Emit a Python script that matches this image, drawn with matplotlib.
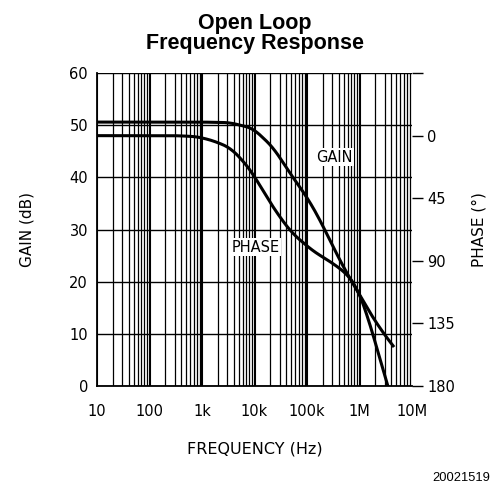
import matplotlib
matplotlib.use("Agg")
import matplotlib.pyplot as plt
import numpy as np

# values (log10 of frequency in Hz)
gain_logf = [1.0, 3.0, 3.53, 3.97, 4.35, 4.73, 5.0, 5.25, 5.5, 5.76, 5.95, 6.2, 6.45, 6.64]
gain_db = [50.6, 50.6, 50.5, 49.4, 45.8, 40.0, 36.2, 31.8, 26.6, 21.6, 18.4, 14.0, 10.2, 7.7]

phase_logf = [1.0, 2.5, 2.9, 3.21, 3.53, 3.78, 3.97, 4.24, 4.49, 4.73, 5.11, 5.5, 5.76, 5.95, 6.14, 6.33, 6.54]
phase_deg = [0.0, 0.0, 0.7, 3.6, 8.6, 18.0, 27.4, 44.6, 59.0, 70.6, 82.8, 92.0, 99.4, 109.0, 128.0, 152.6, 180.0]

freq_ticks = [10, 100, 1e3, 1e4, 1e5, 1e6, 1e7]
freq_labels = ["10", "100", "1k", "10k", "100k", "1M", "10M"]
gain_ticks = [0, 10, 20, 30, 40, 50, 60]
phase_ticks = [-45, 0, 45, 90, 135, 180]
phase_labels = ["", "0", "45", "90", "135", "180"]


def smooth(logf, vals, n=300):
    # light smoothing of the read-off points so the curve looks drawn
    x = np.array(logf)
    y = np.array(vals)
    xs = np.linspace(x[0], x[-1], n)
    ys = np.interp(xs, x, y)
    k = 7
    pad = np.pad(ys, k, mode="reflect", reflect_type="odd")
    ys = np.convolve(pad, np.ones(2 * k + 1) / (2 * k + 1), mode="valid")
    return 10 ** xs, ys


plt.rcParams["font.family"] = ["DejaVu Sans"]

fig = plt.figure(figsize=(5.0, 4.97), dpi=100)
ax = fig.add_axes([0.194, 0.2233, 0.63, 0.6297])

ax.set_xscale("log")
ax.set_xlim(10, 1e7)
ax.set_ylim(0, 60)

# grid: every minor decade line plus gain lines
for dec in range(1, 7):
    for m in range(1, 10):
        f = m * 10 ** dec
        if f > 1e7:
            continue
        lw = 1.5 if m == 1 else 0.9
        ax.axvline(f, color="black", lw=lw, zorder=1)
for g in gain_ticks:
    ax.axhline(g, color="black", lw=1.0, zorder=1)

gx, gy = smooth(gain_logf, gain_db)
ax.plot(gx, gy, color="black", lw=2.2, zorder=3)

ax.set_xticks(freq_ticks)
ax.set_xticklabels(freq_labels)
ax.set_xticks([], minor=True)
ax.set_yticks(gain_ticks)
ax.tick_params(axis="x", length=0, labelsize=10.5, pad=13)
ax.tick_params(axis="y", length=0, labelsize=10.5, pad=6.5)

for s in ["top", "right"]:
    ax.spines[s].set_visible(False)
ax.spines["left"].set_linewidth(1.3)
ax.spines["bottom"].set_linewidth(1.3)

ax.set_xlabel("FREQUENCY (Hz)", fontsize=11.5, labelpad=16)
ax.set_ylabel("GAIN (dB)", fontsize=11, labelpad=25)

ax2 = ax.twinx()
ax2.set_ylim(180, -45)
px, py = smooth(phase_logf, phase_deg)
ax2.plot(px, py, color="black", lw=2.2, zorder=3)
ax2.set_yticks(phase_ticks)
ax2.set_yticklabels(phase_labels)
ax2.tick_params(axis="y", length=8, width=1.0, labelsize=10.5, pad=3)
for s in ["top", "left", "bottom", "right"]:
    ax2.spines[s].set_visible(False)
ax2.set_ylabel("PHASE (°)", fontsize=11, labelpad=12)

ax.text(3.26e5, 43.9, "GAIN", fontsize=10.5, ha="center", va="center",
        bbox=dict(facecolor="white", edgecolor="none", pad=1), zorder=4)
ax.text(1.05e4, 26.6, "PHASE", fontsize=10.5, ha="center", va="center",
        bbox=dict(facecolor="white", edgecolor="none", pad=1), zorder=4)

fig.text(0.51, 0.933, "Open Loop\nFrequency Response", ha="center", va="center",
         fontsize=15.5, fontweight="bold", family="Liberation Sans", linespacing=0.95)
fig.text(0.98, 0.038, "20021519", ha="right", va="center", fontsize=9.3,
         family="Liberation Sans")

fig.savefig("out.png", dpi=100)
